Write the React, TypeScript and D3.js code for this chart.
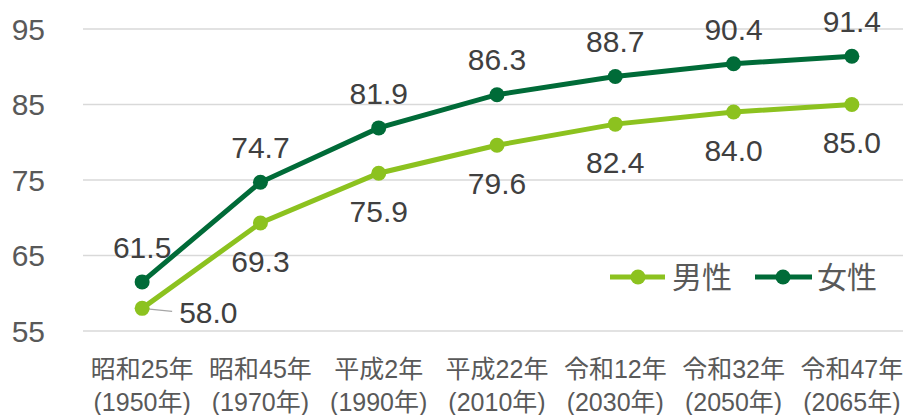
import * as d3 from "d3";

const categories = [
  ["昭和25年", "(1950年)"],
  ["昭和45年", "(1970年)"],
  ["平成2年", "(1990年)"],
  ["平成22年", "(2010年)"],
  ["令和12年", "(2030年)"],
  ["令和32年", "(2050年)"],
  ["令和47年", "(2065年)"],
];
const male = [58.0, 69.3, 75.9, 79.6, 82.4, 84.0, 85.0];
const female = [61.5, 74.7, 81.9, 86.3, 88.7, 90.4, 91.4];
const yTicks = [55, 65, 75, 85, 95];

const width = 903;
const height = 415;
const marginLeft = 83;
const plotRight = 911;
const yTop = 29;
const yBottom = 331;

const maleColor = "#8CC21F";
const femaleColor = "#006B38";
const textColor = "#595959";
const labelColor = "#404040";
const font = "'Liberation Sans', Arial, 'Noto Sans CJK JP', sans-serif";

const App = () => {
  const idx = categories.map((_, i) => i);
  const xScale = d3
    .scaleBand<number>()
    .domain(idx)
    .range([marginLeft, plotRight]);
  const cx = (i: number) => (xScale(i) ?? 0) + xScale.bandwidth() / 2;
  const yScale = d3.scaleLinear().domain([55, 95]).range([yBottom, yTop]);

  const line = d3
    .line<number>()
    .x((_, i) => cx(i))
    .y((d) => yScale(d));

  return (
    <svg
      width={width}
      height={height}
      style={{ position: "absolute", left: 0, top: 0 }}
      fontFamily={font}
    >
      {/* grid */}
      {yTicks.map((t) => (
        <g key={t}>
          <line
            x1={marginLeft}
            x2={width}
            y1={yScale(t)}
            y2={yScale(t)}
            stroke="#d9d9d9"
            strokeWidth={1.5}
          />
          <text
            x={45}
            y={yScale(t)}
            dy="0.36em"
            textAnchor="end"
            fontSize={30}
            fill={textColor}
          >
            {t}
          </text>
        </g>
      ))}

      {/* x labels */}
      {categories.map((c, i) => (
        <text
          key={i}
          x={cx(i)}
          textAnchor="middle"
          fontSize={25}
          fill={textColor}
        >
          <tspan x={cx(i)} y={378}>
            {c[0]}
          </tspan>
          <tspan x={cx(i)} y={411}>
            {c[1]}
          </tspan>
        </text>
      ))}

      {/* leader for 58.0 */}
      <line
        x1={cx(0)}
        y1={yScale(male[0])}
        x2={cx(0) + 30}
        y2={yScale(male[0]) + 3}
        stroke="#a6a6a6"
        strokeWidth={1.2}
      />

      <path d={line(male) ?? ""} fill="none" stroke={maleColor} strokeWidth={5} />
      <path d={line(female) ?? ""} fill="none" stroke={femaleColor} strokeWidth={5} />
      {male.map((v, i) => (
        <circle key={"m" + i} cx={cx(i)} cy={yScale(v)} r={7.5} fill={maleColor} />
      ))}
      {female.map((v, i) => (
        <circle key={"f" + i} cx={cx(i)} cy={yScale(v)} r={7.5} fill={femaleColor} />
      ))}

      {/* data labels */}
      {female.map((v, i) => (
        <text
          key={"fl" + i}
          x={cx(i)}
          y={yScale(v) - 35}
          dy="0.36em"
          textAnchor="middle"
          fontSize={30}
          fill={labelColor}
        >
          {v.toFixed(1)}
        </text>
      ))}
      {male.map((v, i) =>
        i === 0 ? (
          <text
            key={"ml" + i}
            x={cx(i) + 37}
            y={yScale(v) + 4}
            dy="0.36em"
            fontSize={30}
            fill={labelColor}
          >
            {v.toFixed(1)}
          </text>
        ) : (
          <text
            key={"ml" + i}
            x={cx(i)}
            y={yScale(v) + 38}
            dy="0.36em"
            textAnchor="middle"
            fontSize={30}
            fill={labelColor}
          >
            {v.toFixed(1)}
          </text>
        )
      )}

      {/* legend */}
      <g transform="translate(610,277)">
        <line x1={0} x2={55} stroke={maleColor} strokeWidth={5} />
        <circle cx={28} r={7.5} fill={maleColor} />
        <text x={62} dy="0.36em" fontSize={30} fill={textColor}>
          男性
        </text>
        <line x1={145} x2={202} stroke={femaleColor} strokeWidth={5} />
        <circle cx={173} r={7.5} fill={femaleColor} />
        <text x={207} dy="0.36em" fontSize={30} fill={textColor}>
          女性
        </text>
      </g>
    </svg>
  );
};

export default App;
